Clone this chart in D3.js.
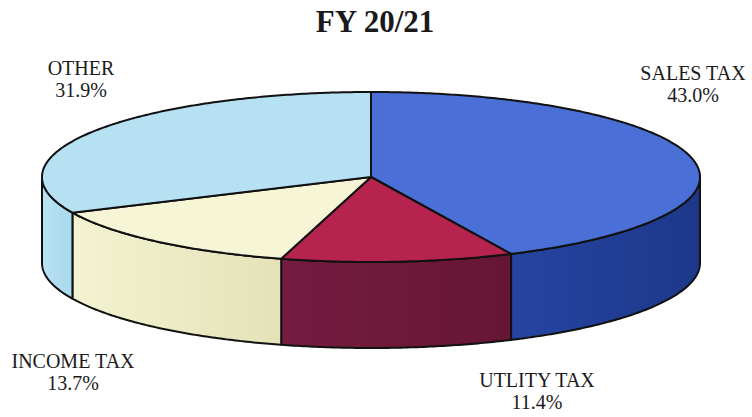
<!DOCTYPE html>
<html>
<head>
<meta charset="utf-8">
<script src="https://cdn.jsdelivr.net/npm/d3@7"></script>
<style>
  html, body { margin: 0; padding: 0; background: #ffffff; }
  svg { display: block; }
  text { font-family: "Liberation Serif", "Times New Roman", serif; fill: #1a1a1a; }
</style>
</head>
<body>
<svg id="chart" width="752" height="417"></svg>
<script>
// Revenue sources, clockwise from twelve o'clock
const categories = ["SALES TAX", "UTLITY TAX", "INCOME TAX", "OTHER"];
const shares = [43.0, 11.4, 13.7, 31.9];
const valueLabels = ["43.0%", "11.4%", "13.7%", "31.9%"];
const title = "FY 20/21";

// Face colours: top surface and side wall for each slice
const topColors = ["#4a6fd6", "#b6234f", "#f6f6d6", "#b6e1f2"];
const sideColors = [["#2545a2", "#1d3889"], ["#751c40", "#661634"], ["#f3f3d2", "#e4e2b8"], ["#b8e3f3", "#a9d8ec"]];

const svg = d3.select("#chart");
const W = 752, H = 417;

// Ellipse projection of the disc
const cx = 371, cy = 177, rx = 329, ry = 85, depth = 86;
const px = a => cx + rx * Math.sin(a);
const py = a => cy - ry * Math.cos(a);

const pie = d3.pie().sort(null).value(d => d).startAngle(0).endAngle(2 * Math.PI);
const arcs = pie(shares);

const line = d3.line().x(d => d[0]).y(d => d[1]);

function rim(a0, a1, dy) {
  const n = Math.max(2, Math.ceil(Math.abs(a1 - a0) / 0.01));
  return d3.range(n + 1).map(i => {
    const a = a0 + (a1 - a0) * i / n;
    return [px(a), py(a) + dy];
  });
}

const defs = svg.append("defs");
sideColors.forEach((c, i) => {
  const g = defs.append("linearGradient").attr("id", "side" + i)
    .attr("x1", "0").attr("x2", "1").attr("y1", "0").attr("y2", "0");
  g.append("stop").attr("offset", "0").attr("stop-color", c[0]);
  g.append("stop").attr("offset", "1").attr("stop-color", c[1]);
});

// Side walls: only the front half (angles between PI/2 and 3PI/2) is visible
const front0 = Math.PI / 2, front1 = 3 * Math.PI / 2;
const sides = svg.append("g");
arcs.forEach((d, i) => {
  const a0 = Math.max(d.startAngle, front0);
  const a1 = Math.min(d.endAngle, front1);
  if (a1 <= a0) return;
  const pts = rim(a0, a1, 0).concat(rim(a1, a0, depth));
  sides.append("path")
    .attr("d", line(pts) + "Z")
    .attr("fill", `url(#side${i})`)
    .attr("stroke", "#111")
    .attr("stroke-width", 2)
    .attr("stroke-linejoin", "round");
});

// Top faces
const tops = svg.append("g");
arcs.forEach((d, i) => {
  const pts = [[cx, cy]].concat(rim(d.startAngle, d.endAngle, 0));
  tops.append("path")
    .attr("d", line(pts) + "Z")
    .attr("fill", topColors[i])
    .attr("stroke", "#111")
    .attr("stroke-width", 2)
    .attr("stroke-linejoin", "round");
});

// Title
svg.append("text")
  .attr("x", 375).attr("y", 32)
  .attr("text-anchor", "middle")
  .attr("font-size", 31)
  .attr("font-weight", "bold")
  .text(title);

// Category labels with their shares
const labelPos = [[693, 80], [537, 387], [73, 368], [81, 75]];
categories.forEach((c, i) => {
  const t = svg.append("text")
    .attr("x", labelPos[i][0]).attr("y", labelPos[i][1])
    .attr("text-anchor", "middle")
    .attr("font-size", 20);
  t.append("tspan").attr("x", labelPos[i][0]).text(c);
  t.append("tspan").attr("x", labelPos[i][0]).attr("dy", 22).text(valueLabels[i]);
});
</script>
</body>
</html>
